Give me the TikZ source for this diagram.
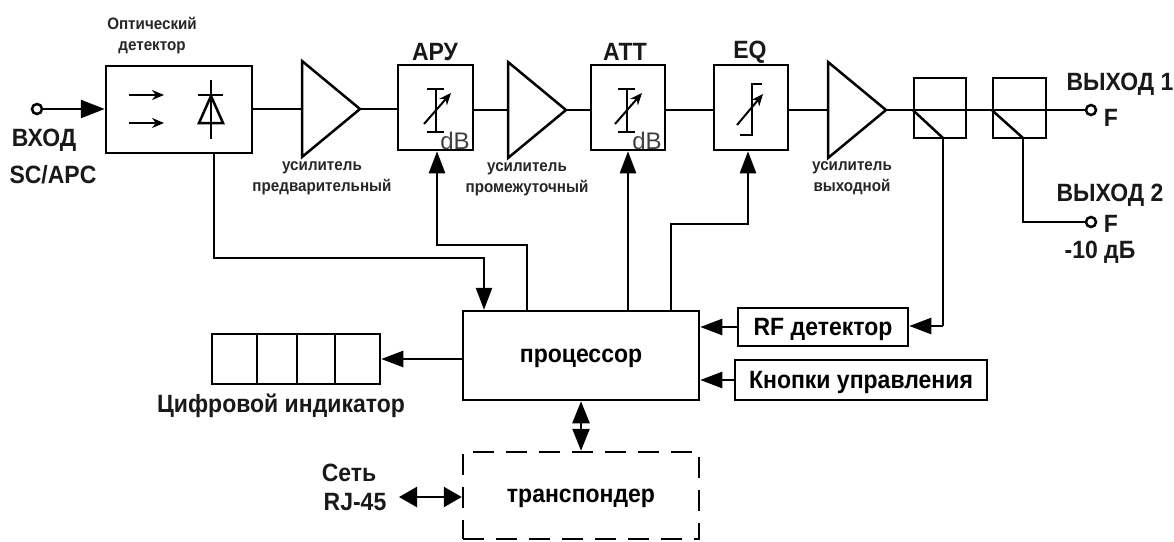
\documentclass[tikz,border=0pt]{standalone}
\usepackage{fontspec}
\setmainfont{Liberation Sans}
\newfontfamily\labelfont[FakeStretch=0.92]{Liberation Sans Bold}
\usetikzlibrary{arrows.meta, positioning, calc}
\tikzset{
  every picture/.style={line width=2.5pt},
  blk/.style 2 args={draw, rectangle, inner sep=0pt, minimum width=#1pt, minimum height=#2pt},
  port/.style={draw, circle, inner sep=0pt, minimum size=10pt, fill=white},
  arrow/.style={-{Triangle[length=22pt, width=16pt]}},
  duplex/.style 2 args={{Triangle[length=#1pt, width=#2pt]}-{Triangle[length=#1pt, width=#2pt]}},
  thin arrow/.style={-{Stealth[length=12pt, width=10pt]}, line width=2pt},
  small/.style={font=\labelfont\fontsize{16.5}{18}\selectfont, align=center, text=black!85},
  label/.style={font=\labelfont\fontsize{25}{28}\selectfont, text=black!90, text depth=0pt},
  inbox/.style={font=\labelfont\fontsize{25}{28}\selectfont, text depth=0pt},
  unit/.style={font=\fontsize{24}{26}\selectfont, text=black!75},
}
\begin{document}
\begin{tikzpicture}[x=1pt, y=-1pt]
  \useasboundingbox (0,0) rectangle (1174,541);
  % upper chain
  \node[port] (in) at (37,109) {};
  \node[blk={146}{87}] (det) at (179,109.5) {};
  \node[blk={75}{85}] (agc) at (435.5,107.5) {};
  \node[blk={74}{85}] (att) at (628,107.5) {};
  \node[blk={74}{85}] (eq) at (751,107.5) {};
  \node[blk={52}{60}] (spl1) at (940,108) {};
  \node[blk={53}{60}] (spl2) at (1019.5,108) {};
  \node[port] (out1) at (1091,110) {};
  \node[port] (out2) at (1091,222) {};
  % amplifiers
  \foreach \n/\x/\y in {pre/302/109, mid/508/110, fin/828/110} {
    \draw (\x,\y-48) -- (\x,\y+48) -- (\x+58,\y) -- cycle;
    \coordinate (\n in) at (\x,\y);
    \coordinate (\n out) at (\x+58,\y);
  }
  \draw (det.east |- prein) -- (prein);
  \draw (preout) -- (agc.west |- preout);
  \draw (agc.east |- midin) -- (midin);
  \draw (midout) -- (att.west |- midout);
  \draw (att.east |- midout) -- (eq.west |- midout);
  \draw (eq.east |- finin) -- (finin);
  \draw (finout) -- (out1);
  \draw[-{Triangle[length=24pt, width=18pt]}] (in) -- (det.west |- in);
  % detector symbols
  \foreach \y in {95,123} \draw[thin arrow] (129,\y) -- (164,\y);
  \draw (211,80) -- (211,139);
  \draw (198,95) -- (223,95);
  \draw (211,96) -- (223,123) -- (199,123) -- cycle;
  % attenuators
  \foreach \x in {436,627} {
    \draw (\x,89) -- (\x,132);
    \draw (\x-9,89) -- (\x+8,89);
    \draw (\x-9,132) -- (\x+8,132);
    \draw[thin arrow] (\x-12,124) -- (\x+15,93);
  }
  \draw (740,135) -- (752,135) -- (752,84) -- (762,84);
  \draw[thin arrow] (737,125) -- (763,94);
  \node[unit] (dbagc) at (455,141) {dB};
  \node[unit] (dbatt) at (647,141) {dB};
  % splitters
  \coordinate (tap1) at (943,138);
  \coordinate (tap2) at (1023,138);
  \coordinate (rf) at (943,326);
  \coordinate (bend2) at (1023,222);
  \draw (spl1.west |- finout) -- (tap1);
  \draw (spl2.west |- finout) -- (tap2);
  \draw (tap1) -- (rf);
  \draw (tap2) -- (bend2) -- (out2);
  % lower part
  \node[blk={236}{89}, inbox] (cpu) at (581,355.5) {процессор};
  \node[blk={170}{38}, inbox] (rfdet) at (823,327) {RF детектор};
  \node[blk={252}{40}, inbox] (keys) at (861,380) {Кнопки управления};
  \node[blk={168}{50}] (disp) at (296,359) {};
  \foreach \x in {257,297,335} \draw (\x,334) -- (\x,384);
  \node[blk={236}{87}, inbox, dash pattern=on 21pt off 12pt] (trans) at (581,495.5) {транспондер};
  \coordinate (net) at (399,497);
  \draw[arrow] (rf) -- (rfdet.east |- rf);
  \draw[arrow] (rfdet.west) -- (cpu.east |- rfdet.west);
  \draw[arrow] (keys.west) -- (cpu.east |- keys.west);
  \draw[arrow] (cpu.west |- disp.east) -- (disp.east);
  \draw[duplex={22}{17}] (cpu.south) -- (trans.north);
  \draw[duplex={18}{20}] (net) -- (trans.west |- net);
  % control lines
  \coordinate (d1) at (214,258);
  \coordinate (d2) at (484,258);
  \coordinate (a1) at (527,245);
  \coordinate (a2) at (437,245);
  \coordinate (e1) at (671,224);
  \coordinate (e2) at (748,224);
  \draw[arrow] (det.south -| d1) -- (d1) -- (d2) -- (cpu.north -| d2);
  \draw[arrow] (cpu.north -| a1) -- (a1) -- (a2) -- (agc.south -| a2);
  \draw[arrow] (cpu.north -| att.south) -- (att.south);
  \draw[arrow] (cpu.north -| e1) -- (e1) -- (e2) -- (eq.south -| e2);
  % labels
  \node[small] (ldet) at (152,36) {Оптический\\[3pt]детектор};
  \node[small] (lpre) at (322,178) {усилитель\\[3pt]предварительный};
  \node[small] (lmid) at (527,179) {усилитель\\[3pt]промежуточный};
  \node[small] (lfin) at (852,178) {усилитель\\[3pt]выходной};
  \node[label] (tagc) at (435,52) {АРУ};
  \node[label] (tatt) at (625,52) {АТТ};
  \node[label] (teq) at (750,50) {EQ};
  \node[label] (tin) at (44,138) {ВХОД};
  \node[label] (tsc) at (53,174) {SC/APC};
  \node[label] (tout1) at (1120,82) {ВЫХОД 1};
  \node[label] (tf1) at (1111,118) {F};
  \node[label] (tout2) at (1110,193) {ВЫХОД 2};
  \node[label] (tf2) at (1111,224) {F};
  \node[label] (tdb) at (1100,250) {-10 дБ};
  \node[label] (tdisp) at (281,403) {Цифровой индикатор};
  \node[label] (tnet) at (349,473) {Сеть};
  \node[label] (trj) at (355,502) {RJ-45};
\end{tikzpicture}
\end{document}
